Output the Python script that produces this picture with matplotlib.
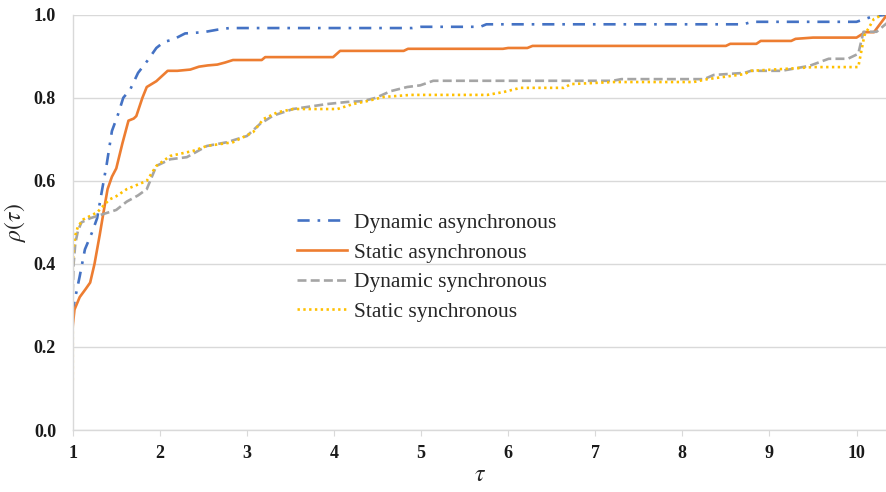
import matplotlib.pyplot as plt

plt.rcParams['mathtext.fontset'] = 'stix'

# Performance profiles: tau vs rho(tau)
dyn_async_tau = [1.0, 1.02, 1.08, 1.14, 1.22, 1.28, 1.33, 1.39, 1.45, 1.52, 1.58, 1.66,
                 1.75, 1.86, 1.96, 2.05, 2.15, 2.29, 2.5, 2.66, 2.8, 4.9, 5.0, 5.68,
                 5.75, 8.7, 8.8, 10.0, 10.1, 10.2, 10.35]
dyn_async_rho = [0.28, 0.31, 0.37, 0.435, 0.475, 0.51, 0.57, 0.64, 0.72, 0.76, 0.80, 0.82,
                 0.86, 0.89, 0.92, 0.935, 0.94, 0.955, 0.958, 0.964, 0.968, 0.968, 0.971, 0.971,
                 0.977, 0.977, 0.983, 0.983, 0.99, 0.997, 1.0]

sta_async_tau = [1.0, 1.02, 1.08, 1.15, 1.2, 1.25, 1.31, 1.35, 1.40, 1.45, 1.50, 1.57,
                 1.64, 1.70, 1.73, 1.80, 1.85, 1.96, 2.09, 2.2, 2.35, 2.45, 2.55, 2.66,
                 2.75, 2.84, 3.17, 3.21, 3.99, 4.07, 4.8, 4.85, 5.94, 6.0, 6.22, 6.28,
                 8.5, 8.55, 8.85, 8.9, 9.25, 9.3, 9.5, 10.0, 10.1, 10.2, 10.35]
sta_async_rho = [0.25, 0.29, 0.32, 0.34, 0.355, 0.40, 0.47, 0.52, 0.58, 0.61, 0.63, 0.69,
                 0.745, 0.75, 0.756, 0.80, 0.826, 0.84, 0.865, 0.865, 0.868, 0.875, 0.878, 0.88,
                 0.885, 0.891, 0.891, 0.898, 0.898, 0.913, 0.913, 0.918, 0.918, 0.92, 0.92, 0.925,
                 0.925, 0.93, 0.93, 0.937, 0.937, 0.942, 0.945, 0.945, 0.958, 0.958, 1.0]

dyn_sync_tau = [1.0, 1.01, 1.03, 1.06, 1.1, 1.2, 1.35, 1.5, 1.62, 1.75, 1.85, 1.96,
                2.12, 2.31, 2.54, 2.77, 3.0, 3.15, 3.30, 3.53, 3.92, 4.15, 4.33, 4.48,
                4.65, 4.84, 4.99, 5.14, 7.2, 7.3, 8.25, 8.36, 8.71, 8.79, 9.14, 9.46,
                9.68, 9.9, 10.02, 10.08, 10.23, 10.35]
dyn_sync_rho = [0.33, 0.40, 0.45, 0.48, 0.50, 0.51, 0.52, 0.53, 0.55, 0.565, 0.58, 0.636,
                0.652, 0.657, 0.684, 0.693, 0.708, 0.737, 0.757, 0.773, 0.785, 0.79, 0.792, 0.80,
                0.816, 0.826, 0.83, 0.841, 0.841, 0.845, 0.845, 0.855, 0.86, 0.865, 0.865, 0.877,
                0.894, 0.894, 0.906, 0.959, 0.959, 0.98]

sta_sync_tau = [1.0, 1.0, 1.01, 1.03, 1.06, 1.12, 1.28, 1.42, 1.50, 1.62, 1.85, 1.96,
                2.12, 2.38, 2.54, 2.84, 3.07, 3.19, 3.35, 3.53, 4.04, 4.22, 4.38, 4.57,
                4.88, 5.76, 5.95, 6.14, 6.64, 6.72, 7.21, 8.13, 8.29, 8.71, 8.79, 9.37,
                9.5, 10.02, 10.09, 10.2, 10.3]
sta_sync_rho = [0.12, 0.40, 0.44, 0.47, 0.49, 0.507, 0.524, 0.555, 0.563, 0.58, 0.60, 0.636,
                0.66, 0.672, 0.684, 0.693, 0.717, 0.749, 0.765, 0.773, 0.773, 0.785, 0.792, 0.802,
                0.807, 0.807, 0.814, 0.824, 0.824, 0.833, 0.838, 0.838, 0.845, 0.857, 0.865, 0.872,
                0.874, 0.874, 0.95, 0.99, 1.0]

labels = ['Dynamic asynchronous', 'Static asynchronous', 'Dynamic synchronous', 'Static synchronous']
x_ticks = [1, 2, 3, 4, 5, 6, 7, 8, 9, 10]
y_ticks = [0.0, 0.2, 0.4, 0.6, 0.8, 1.0]

fig = plt.figure(figsize=(8.87, 4.92), dpi=100)
ax = fig.add_axes([0.082, 0.126, 0.918, 0.844])

lw = 1.9
ax.plot(dyn_async_tau, dyn_async_rho, color='#4472C4', lw=lw,
        linestyle=(0, (4.6, 3.0, 1.0, 3.0)), label=labels[0])
ax.plot(sta_async_tau, sta_async_rho, color='#ED7D31', lw=lw, linestyle='-', label=labels[1])
ax.plot(dyn_sync_tau, dyn_sync_rho, color='#A5A5A5', lw=lw,
        linestyle=(0, (3.4, 1.6)), label=labels[2])
ax.plot(sta_sync_tau, sta_sync_rho, color='#FFC000', lw=lw,
        linestyle=(0, (0.9, 1.3)), label=labels[3])

ax.set_xlim(1, 10.35)
ax.set_ylim(0, 1.0)
ax.set_xticks(x_ticks)
ax.set_yticks(y_ticks)
ax.set_yticklabels([f'{v:.1f}' for v in y_ticks])
ax.grid(axis='y', color='#D9D9D9', lw=1)
ax.set_axisbelow(True)

for side in ['top', 'right']:
    ax.spines[side].set_visible(False)
for side in ['left', 'bottom']:
    ax.spines[side].set_color('#D9D9D9')
    ax.spines[side].set_linewidth(1)

ax.tick_params(axis='x', length=4, color='#D9D9D9', pad=7)
ax.tick_params(axis='y', length=0, pad=12)
for t in ax.get_xticklabels() + ax.get_yticklabels():
    t.set_fontfamily('Liberation Serif')
    t.set_fontweight('bold')
    t.set_fontsize(13)
    t.set_color('#1a1a1a')

ax.set_xlabel(r'$\tau$', fontsize=17, labelpad=0, color='#262626')
ax.set_ylabel(r'$\rho(\tau)$', fontsize=17, labelpad=4, color='#262626')

leg = ax.legend(loc='upper left', bbox_to_anchor=(0.252, 0.57), frameon=False,
                prop={'family': 'Liberation Serif', 'size': 15.5},
                handlelength=2.3, handletextpad=0.35, labelspacing=0.45)
for t in leg.get_texts():
    t.set_color('#262626')

plt.savefig('out.png', dpi=100)
